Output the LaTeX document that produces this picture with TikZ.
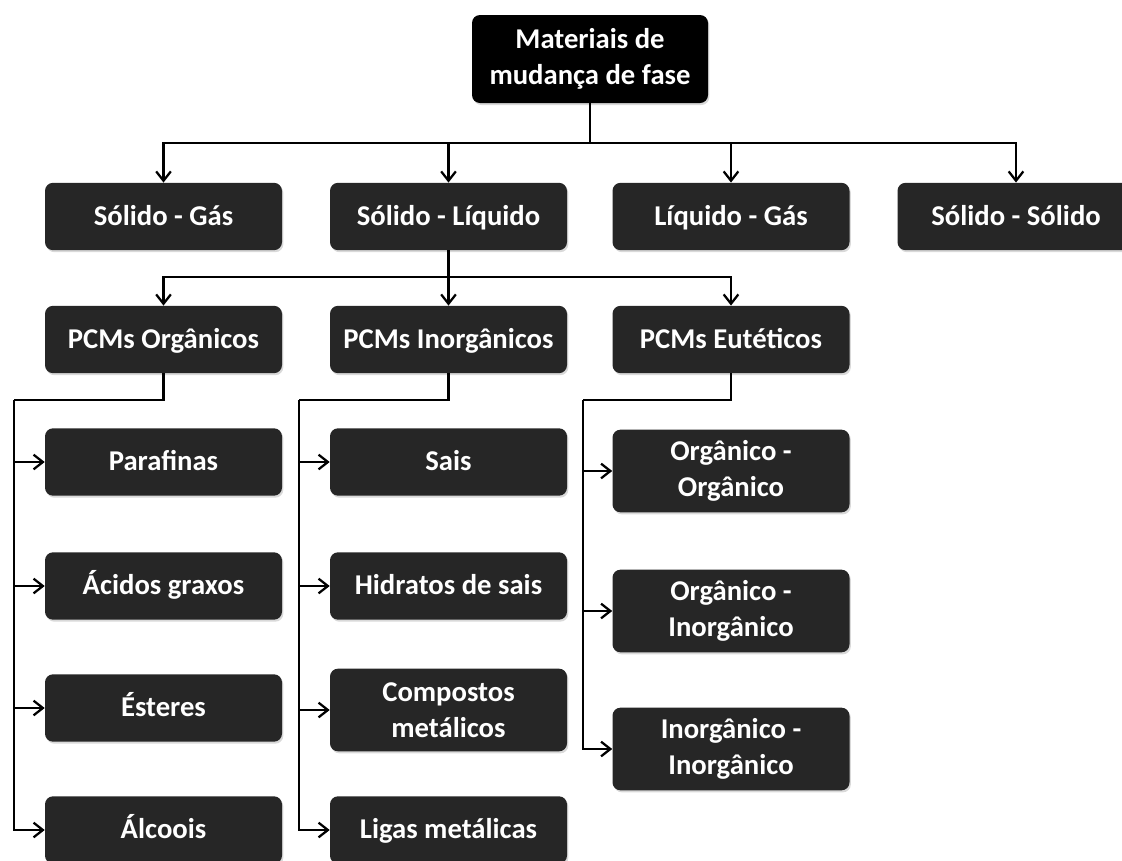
\documentclass[tikz,border=0pt]{standalone}
\usepackage{fontspec}
\setmainfont{Carlito}
\usetikzlibrary{arrows.meta,positioning,calc,shadows}
\definecolor{boxgray}{HTML}{262626}

\begin{document}
\begin{tikzpicture}[
  x=0.75pt,y=-0.75pt,
  >={Straight Barb[length=7pt,width=11pt]},
  font=\bfseries\fontsize{21.5}{27}\selectfont,
  box/.style={rounded corners=6pt,fill=boxgray,text=white,align=center,
    minimum width=177.75pt,minimum height=50.5pt,inner sep=0pt,
    text height=16pt,text depth=3pt,
    drop shadow={opacity=0.3,shadow xshift=1pt,shadow yshift=-1.5pt}},
  tall/.style={box,minimum height=62pt,text height={},text depth={}},
  root/.style={tall,fill=black,minimum width=177pt,minimum height=66pt},
  link/.style={line width=1.7pt},
  arr/.style={->,line width=1.7pt}
]
\useasboundingbox (0,0) rectangle (1122,861);

% top
\node[root] (root) at (590,59) {Materiais de\\mudança de fase};

% phase changes
\node[box] (sg) at (163.5,216.5) {Sólido - Gás};
\node[box] (sl) at (448.5,216.5) {Sólido - Líquido};
\node[box] (lg) at (731,216.5) {Líquido - Gás};
\node[box] (ss) at (1016,216.5) {Sólido - Sólido};

% PCM classes
\node[box] (org) at (163.5,339.5) {PCMs Orgânicos};
\node[box] (inorg) at (448.5,339.5) {PCMs Inorgânicos};
\node[box] (eut) at (731,339.5) {PCMs Eutéticos};

% organic
\node[box] (paraf) at (163.5,462) {Parafinas};
\node[box] (acid) at (163.5,586) {Ácidos graxos};
\node[box] (ester) at (163.5,708) {Ésteres};
\node[box] (alc) at (163.5,830) {Álcoois};

% inorganic
\node[box] (sais) at (448.5,462) {Sais};
\node[box] (hidr) at (448.5,586) {Hidratos de sais};
\node[tall] (comp) at (448.5,710) {Compostos\\metálicos};
\node[box] (ligas) at (448.5,830) {Ligas metálicas};

% eutectic
\node[tall] (oo) at (731,471) {Orgânico -\\Orgânico};
\node[tall] (oi) at (731,611) {Orgânico -\\Inorgânico};
\node[tall] (ii) at (731,749) {Inorgânico -\\Inorgânico};

\coordinate (j1) at (590,143);
\coordinate (j2) at (448.5,277);
\coordinate (c1) at (14,400);
\coordinate (c2) at (299,400);
\coordinate (c3) at (583,400);

\draw[link] (root) -- (j1);
\foreach \n in {sg,sl,lg,ss}
  \draw[arr] (j1) -| (\n);
\draw[link] (sl) -- (j2);
\foreach \n in {org,inorg,eut}
  \draw[arr] (j2) -| (\n);

\draw[link] (org) |- (c1);
\foreach \n in {paraf,acid,ester,alc}
  \draw[arr] (c1) |- (\n);
\draw[link] (inorg) |- (c2);
\foreach \n in {sais,hidr,comp,ligas}
  \draw[arr] (c2) |- (\n);
\draw[link] (eut) |- (c3);
\foreach \n in {oo,oi,ii}
  \draw[arr] (c3) |- (\n);
\end{tikzpicture}
\end{document}
